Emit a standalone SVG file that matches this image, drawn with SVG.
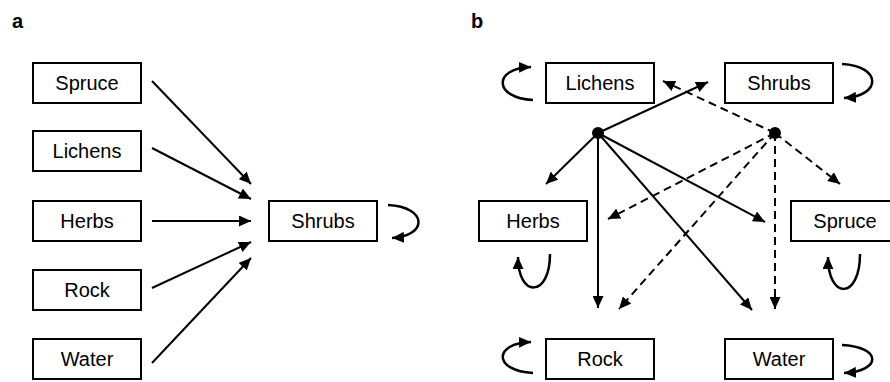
<svg xmlns="http://www.w3.org/2000/svg" width="890" height="382" viewBox="0 0 890 382">
<style>
.box{fill:#fff;stroke:#000;stroke-width:2}
.lbl{font-family:"Liberation Sans",Arial,sans-serif;font-size:20px;text-anchor:middle;fill:#000}
.panel{font-family:"Liberation Sans",Arial,sans-serif;font-size:20px;font-weight:bold;fill:#000}
.e{fill:none;stroke:#000;stroke-width:2;marker-end:url(#ah)}
.d{stroke-dasharray:8 5}
.loop{fill:none;stroke:#000;stroke-width:2.5;marker-end:url(#ah)}
</style>
<defs>
<marker id="ah" markerUnits="userSpaceOnUse" markerWidth="13" markerHeight="11" refX="12" refY="5.5" orient="auto">
<path d="M0,0 L12,5.5 L0,11 Z" fill="#000"/>
</marker>
</defs>
<rect width="890" height="382" fill="#fff"/>
<text class="panel" x="12" y="28">a</text>
<text class="panel" x="471" y="28">b</text>

<g id="connectors">
<line class="e" x1="152" y1="81" x2="251" y2="184"/>
<line class="e" x1="152" y1="148" x2="251" y2="199"/>
<line class="e" x1="152" y1="221" x2="251" y2="221"/>
<line class="e" x1="152" y1="288" x2="251" y2="242"/>
<line class="e" x1="152" y1="363" x2="251" y2="258"/>
<path class="loop" d="M388,205 C428,207 428,236 392,238"/>

<line class="e" x1="598" y1="133" x2="708" y2="82"/>
<line class="e" x1="598" y1="133" x2="546" y2="184"/>
<line class="e" x1="598" y1="133" x2="598" y2="308"/>
<line class="e" x1="598" y1="133" x2="752" y2="310"/>
<line class="e" x1="598" y1="133" x2="765" y2="222"/>
<line class="e d" x1="775" y1="133" x2="663" y2="81"/>
<line class="e d" x1="775" y1="133" x2="840" y2="184"/>
<line class="e d" x1="775" y1="133" x2="608" y2="219"/>
<line class="e d" x1="775" y1="133" x2="619" y2="309"/>
<line class="e d" x1="775" y1="133" x2="775" y2="309"/>
<circle cx="598" cy="133" r="6"/>
<circle cx="775" cy="133" r="6"/>

<path class="loop" d="M533,100 C493,98 493,68 531,67"/>
<path class="loop" d="M842,64 C882,66 882,96 844,98"/>
<path class="loop" d="M550,254 C550,298 518,298 518,257"/>
<path class="loop" d="M860,254 C860,300 828,300 828,257"/>
<path class="loop" d="M533,373 C493,371 493,343 531,342"/>
<path class="loop" d="M842,345 C882,347 882,371 844,373"/>
</g>

<g id="a-spruce"><rect class="box" x="33" y="63" width="108" height="40"/><text class="lbl" x="87" y="90">Spruce</text></g>
<g id="a-lichens"><rect class="box" x="33" y="131" width="108" height="40"/><text class="lbl" x="87" y="158">Lichens</text></g>
<g id="a-herbs"><rect class="box" x="33" y="201" width="108" height="40"/><text class="lbl" x="87" y="228">Herbs</text></g>
<g id="a-rock"><rect class="box" x="33" y="270" width="108" height="40"/><text class="lbl" x="87" y="297">Rock</text></g>
<g id="a-water"><rect class="box" x="33" y="339" width="108" height="40"/><text class="lbl" x="87" y="366">Water</text></g>
<g id="a-shrubs"><rect class="box" x="269" y="201" width="108" height="40"/><text class="lbl" x="323" y="228">Shrubs</text></g>

<g id="b-lichens"><rect class="box" x="546" y="63" width="108" height="40"/><text class="lbl" x="600" y="90">Lichens</text></g>
<g id="b-shrubs"><rect class="box" x="725" y="63" width="108" height="40"/><text class="lbl" x="779" y="90">Shrubs</text></g>
<g id="b-herbs"><rect class="box" x="479" y="201" width="108" height="40"/><text class="lbl" x="533" y="228">Herbs</text></g>
<g id="b-spruce"><rect class="box" x="791" y="201" width="108" height="40"/><text class="lbl" x="845" y="228">Spruce</text></g>
<g id="b-rock"><rect class="box" x="546" y="339" width="108" height="40"/><text class="lbl" x="600" y="366">Rock</text></g>
<g id="b-water"><rect class="box" x="725" y="339" width="108" height="40"/><text class="lbl" x="779" y="366">Water</text></g>
</svg>
